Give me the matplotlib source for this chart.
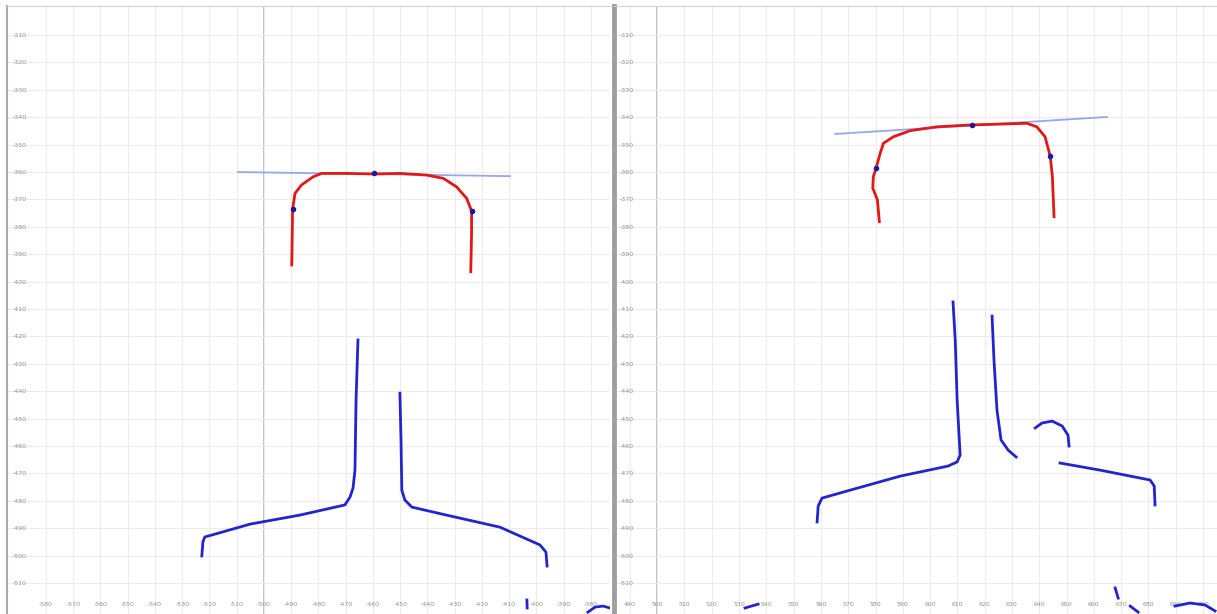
import matplotlib
matplotlib.use("Agg")
import matplotlib.pyplot as plt
import numpy as np

# ---- left scan ----
left_head_x = [-489.8, -489.6, -489.5, -488.6, -486.2, -481.9, -478.8, -469.7, -459.9,
               -450.1, -440.3, -434.2, -429.3, -425.6, -423.8, -423.8, -424.1]
left_head_y = [-393.9, -381.2, -373.6, -367.8, -364.7, -361.7, -360.5, -360.5, -360.7,
               -360.5, -361.1, -362.3, -365.4, -369.6, -374.2, -382.3, -396.4]
left_pts_x = [-489.5, -459.6, -423.8]
left_pts_y = [-373.6, -360.4, -374.2]
left_fit_x = [-509.5, -409.7]
left_fit_y = [-360.0, -361.5]

left_web1_x = [-465.5, -466.2, -466.6, -467.3, -468.4, -470.3, -486.8, -505.1, -521.7, -522.4, -522.8]
left_web1_y = [-421.3, -443.2, -468.8, -475.3, -478.6, -481.5, -485.2, -488.5, -493.2, -495.0, -500.1]
left_web2_x = [-450.1, -449.7, -449.4, -448.3, -445.7, -431.7, -413.4, -398.7, -396.5, -396.1]
left_web2_y = [-440.7, -457.8, -476.1, -479.7, -482.3, -485.5, -489.6, -496.1, -498.7, -503.8]
left_bits = [
    ([-403.5, -403.4], [-516.2, -519.1]),
    ([-381.1, -378.5, -375.6, -373.0], [-520.6, -518.8, -518.4, -519.1]),
]

# ---- right scan ----
right_head_x = [581.4, 580.7, 579.0, 579.2, 580.2, 581.7, 582.9, 586.6, 592.7, 602.5,
                615.3, 625.6, 635.4, 639.1, 642.1, 644.0, 644.8, 645.4]
right_head_y = [-378.1, -370.2, -365.9, -361.7, -358.6, -353.2, -349.5, -347.1, -344.9, -343.5,
                -342.8, -342.5, -342.2, -343.5, -347.1, -354.2, -361.7, -376.3]
right_pts_x = [580.2, 615.3, 644.0]
right_pts_y = [-358.6, -342.8, -354.2]
right_fit_x = [565.2, 664.8]
right_fit_y = [-346.1, -339.9]

right_web1_x = [608.4, 609.2, 609.9, 611.0, 609.9, 606.6, 589.0, 570.7, 560.4, 559.0, 558.6]
right_web1_y = [-407.4, -421.3, -443.2, -463.3, -465.8, -467.3, -471.0, -476.1, -479.0, -481.9, -487.7]
right_web2_x = [622.7, 623.4, 624.5, 626.0, 628.6, 631.5]
right_web2_y = [-412.6, -428.6, -446.9, -457.8, -461.5, -464.0]
right_arc_x = [638.5, 641.0, 644.7, 648.4, 650.5, 650.9]
right_arc_y = [-453.4, -451.6, -450.9, -452.7, -456.0, -460.0]
right_flange_x = [647.6, 662.3, 680.6, 682.1, 682.4]
right_flange_y = [-466.2, -468.8, -472.4, -474.6, -481.5]
right_bits = [
    ([667.8, 668.9], [-511.8, -515.5]),
    ([673.3, 676.2], [-518.4, -520.6]),
    ([689.7, 695.2, 700.7, 704.4], [-518.4, -517.3, -518.0, -520.2]),
    ([532.2, 537.0], [-519.1, -517.7]),
]

left_xticks = np.arange(-580, -379, 10)
right_xticks = np.arange(490, 701, 10)
yticks = np.arange(-510, -309, 10)

RED = "#e01818"
BLUE = "#2424cc"
FIT = "#9aa6ea"
DOT = "#1a1a9a"

fig = plt.figure(figsize=(12.17, 6.14), dpi=100)
ax1 = fig.add_axes([7 / 1217, 0, 603 / 1217, 608 / 614])
ax2 = fig.add_axes([614 / 1217, 0, 603 / 1217, 608 / 614])


def setup(ax, xlim, xticks, major):
    ax.set_xlim(*xlim)
    ax.set_ylim(-521.3, -299.4)
    ax.set_xticks(xticks)
    ax.set_yticks(yticks)
    ax.set_xticklabels([str(v) for v in xticks])
    ax.set_yticklabels([str(v) for v in yticks])
    ax.grid(True, color="#ececec", linewidth=0.8)
    ax.set_axisbelow(True)
    ax.axvline(major, color="#b8b8b8", linewidth=1.2, zorder=0.5)
    ax.tick_params(axis="both", length=0, labelsize=4.5, labelcolor="#909090")
    ax.tick_params(axis="y", pad=-4)
    ax.tick_params(axis="x", pad=-9)
    for lab in ax.get_yticklabels():
        lab.set_horizontalalignment("left")
    for s in ["right", "bottom"]:
        ax.spines[s].set_visible(False)
    ax.spines["top"].set_color("#d0d0d0")


setup(ax1, (-594.3, -373.0), left_xticks, -500)
ax1.spines["left"].set_color("#a8a8a8")
ax1.spines["left"].set_linewidth(1.5)

setup(ax2, (484.2, 705.1), right_xticks, 500)
ax2.spines["left"].set_color("#a0a0a0")
ax2.spines["left"].set_linewidth(3.5)

# left profile
ax1.plot(left_fit_x, left_fit_y, color=FIT, linewidth=1.3)
ax1.plot(left_head_x, left_head_y, color=RED, linewidth=2)
ax1.scatter(left_pts_x, left_pts_y, color=DOT, s=9, zorder=5)
ax1.plot(left_web1_x, left_web1_y, color=BLUE, linewidth=2)
ax1.plot(left_web2_x, left_web2_y, color=BLUE, linewidth=2)
for bx, by in left_bits:
    ax1.plot(bx, by, color=BLUE, linewidth=2, clip_on=True)

# right profile
ax2.plot(right_fit_x, right_fit_y, color=FIT, linewidth=1.3)
ax2.plot(right_head_x, right_head_y, color=RED, linewidth=2)
ax2.scatter(right_pts_x, right_pts_y, color=DOT, s=9, zorder=5)
for xs, ys in [(right_web1_x, right_web1_y), (right_web2_x, right_web2_y),
               (right_arc_x, right_arc_y), (right_flange_x, right_flange_y)]:
    ax2.plot(xs, ys, color=BLUE, linewidth=2)
for bx, by in right_bits:
    ax2.plot(bx, by, color=BLUE, linewidth=2)

fig.savefig("out.png", dpi=100)
